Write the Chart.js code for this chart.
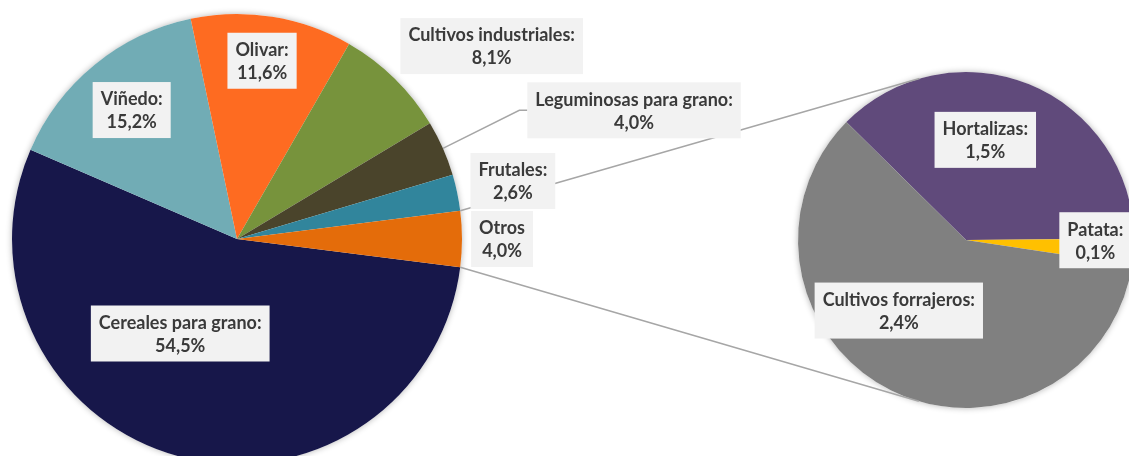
<!DOCTYPE html>
<html>
<head>
<meta charset="utf-8">
<script src="https://cdn.jsdelivr.net/npm/chart.js@4/dist/chart.umd.min.js"></script>
<style>
  html, body { margin: 0; padding: 0; background: #fff; overflow: hidden; }
  #wrap { position: relative; width: 1140px; height: 480px; }
  #wrap canvas { position: absolute; left: 0; top: 0; }
</style>
</head>
<body>
<div id="wrap">
  <canvas id="mainPie" width="1140" height="480"></canvas>
  <canvas id="otherPie" width="1140" height="480"></canvas>
</div>
<script>
// share of the cultivated area, %
const mainCategories = ['Cereales para grano', 'Viñedo', 'Olivar', 'Cultivos industriales',
  'Leguminosas para grano', 'Frutales', 'Otros'];
const mainValues = [54.5, 15.2, 11.6, 8.1, 4.0, 2.6, 4.0];

// breakdown of "Otros"
const otherCategories = ['Hortalizas', 'Patata', 'Cultivos forrajeros'];
const otherValues = [1.5, 0.1, 2.4];

const mainColors = ['#17174a', '#71acb5', '#fe6b21', '#77933c', '#4a442b', '#31859c', '#e46c0a'];
const otherColors = ['#604a7b', '#ffc000', '#808080'];

// label placement: k = distance from the centre in radii, da = degrees away from the slice middle
const mainLabelSpots = [
  { k: 0.49, da: 15.7 },
  { k: 0.74, da: 0 },
  { k: 0.80, da: -1 },
  { k: 1.42, da: 8.4 },
  { k: 1.855, da: 5.8, leader: true },
  { k: 1.253, da: 0 },
  { k: 1.178, da: 0 }
];
const otherLabelSpots = [
  { k: 0.607, da: -11.2 },
  { k: 0.77, da: -4 },
  { k: 0.58, da: 17 }
];

const FONT = 'bold 18px Lato';
const LINE_H = 23;
const PAD_X = 8;
const PAD_Y = 5;
const otrosIndex = mainCategories.indexOf('Otros');

function pct(v) {
  return v.toFixed(1).replace('.', ',') + '%';
}

const pieShadow = {
  id: 'pieShadow',
  beforeDatasetsDraw(chart) {
    const arc = chart.getDatasetMeta(0).data[0];
    const ctx = chart.ctx;
    ctx.save();
    ctx.shadowColor = 'rgba(0,0,0,0.3)';
    ctx.shadowBlur = 6;
    ctx.fillStyle = '#fff';
    ctx.beginPath();
    ctx.arc(arc.x, arc.y, arc.outerRadius, 0, Math.PI * 2);
    ctx.fill();
    ctx.restore();
  }
};

function pieOptions(pad, rotation) {
  return {
    responsive: false,
    animation: false,
    rotation: rotation,
    layout: { padding: pad },
    plugins: {
      legend: { display: false },
      tooltip: { enabled: false }
    },
    events: []
  };
}

const mainChart = new Chart(document.getElementById('mainPie'), {
  type: 'pie',
  data: {
    labels: mainCategories,
    datasets: [{
      data: mainValues,
      backgroundColor: mainColors,
      borderWidth: 0,
      hoverOffset: 0
    }]
  },
  options: pieOptions({ left: 12, top: 14, right: 678, bottom: 16 }, 97.2),
  plugins: [pieShadow]
});

// box geometry for one label, placed around an arc
function placeBox(ctx, arc, spot, lines) {
  ctx.font = FONT;
  const mid = (arc.startAngle + arc.endAngle) / 2 + spot.da * Math.PI / 180;
  const cx = arc.x + Math.cos(mid) * arc.outerRadius * spot.k;
  const cy = arc.y + Math.sin(mid) * arc.outerRadius * spot.k;
  const w = Math.max(...lines.map(t => ctx.measureText(t).width)) + PAD_X * 2;
  const h = lines.length * LINE_H + PAD_Y * 2;
  return { x: cx - w / 2, y: cy - h / 2, w, h, cx, lines };
}

function drawBox(ctx, b) {
  ctx.fillStyle = '#f2f2f2';
  ctx.fillRect(b.x, b.y, b.w, b.h);
  ctx.fillStyle = '#3a3a3a';
  ctx.font = FONT;
  ctx.textAlign = 'center';
  ctx.textBaseline = 'middle';
  b.lines.forEach((t, i) => ctx.fillText(t, b.cx, b.y + PAD_Y + LINE_H * (i + 0.5) + 1));
}

function tangentPoint(p, c, r, sign) {
  const dx = p.x - c.x, dy = p.y - c.y;
  const d = Math.hypot(dx, dy);
  const a = Math.atan2(dy, dx) + sign * Math.acos(r / d);
  return { x: c.x + Math.cos(a) * r, y: c.y + Math.sin(a) * r };
}

const labelsAndLinks = {
  id: 'labelsAndLinks',
  afterDatasetsDraw(chart) {
    const ctx = chart.ctx;
    const mainArcs = mainChart.getDatasetMeta(0).data;
    const otherArcs = chart.getDatasetMeta(0).data;

    const boxes = [];
    let leader = null;
    mainArcs.forEach((arc, i) => {
      const name = mainCategories[i] + (i === otrosIndex ? '' : ':');
      const b = placeBox(ctx, arc, mainLabelSpots[i], [name, pct(mainValues[i])]);
      boxes.push(b);
      if (mainLabelSpots[i].leader) {
        const mid = (arc.startAngle + arc.endAngle) / 2;
        leader = {
          from: { x: arc.x + Math.cos(mid) * arc.outerRadius, y: arc.y + Math.sin(mid) * arc.outerRadius },
          elbow: { x: b.x - 8, y: b.y + b.h / 2 },
          to: { x: b.x, y: b.y + b.h / 2 }
        };
      }
    });
    otherArcs.forEach((arc, i) => {
      boxes.push(placeBox(ctx, arc, otherLabelSpots[i], [otherCategories[i] + ':', pct(otherValues[i])]));
    });

    // connector lines from the "Otros" slice to the second pie
    const otros = mainArcs[otrosIndex];
    const c = { x: otherArcs[0].x, y: otherArcs[0].y };
    const r = otherArcs[0].outerRadius;
    const p1 = { x: otros.x + Math.cos(otros.startAngle) * otros.outerRadius, y: otros.y + Math.sin(otros.startAngle) * otros.outerRadius };
    const p2 = { x: otros.x + Math.cos(otros.endAngle) * otros.outerRadius, y: otros.y + Math.sin(otros.endAngle) * otros.outerRadius };
    const t1 = tangentPoint(p1, c, r, 1);
    const t2 = tangentPoint(p2, c, r, -1);

    ctx.save();
    ctx.strokeStyle = '#a6a6a6';
    ctx.lineWidth = 1.5;
    ctx.beginPath();
    ctx.moveTo(p1.x, p1.y); ctx.lineTo(t1.x, t1.y);
    ctx.moveTo(p2.x, p2.y); ctx.lineTo(t2.x, t2.y);
    if (leader) {
      ctx.moveTo(leader.from.x, leader.from.y);
      ctx.lineTo(leader.elbow.x, leader.elbow.y);
      ctx.lineTo(leader.to.x, leader.to.y);
    }
    ctx.stroke();
    boxes.forEach(b => drawBox(ctx, b));
    ctx.restore();
  }
};

new Chart(document.getElementById('otherPie'), {
  type: 'pie',
  data: {
    labels: otherCategories,
    datasets: [{
      data: otherValues,
      backgroundColor: otherColors,
      borderWidth: 0,
      hoverOffset: 0
    }]
  },
  options: pieOptions({ left: 798, top: 72, right: 6, bottom: 72 }, -45.4),
  plugins: [pieShadow, labelsAndLinks]
});
</script>
</body>
</html>
